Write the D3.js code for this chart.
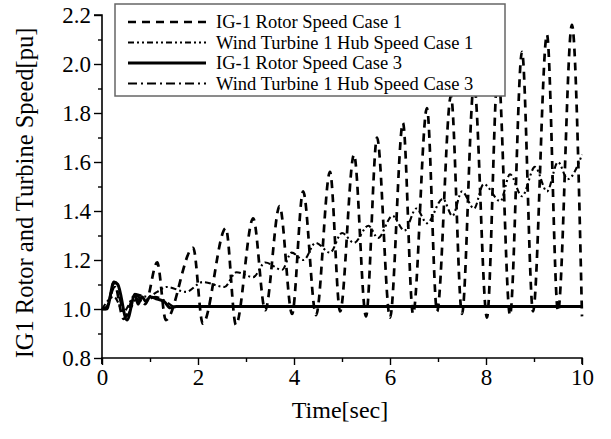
<!DOCTYPE html>
<html>
<head>
<meta charset="utf-8">
<script src="https://cdn.jsdelivr.net/npm/d3@7"></script>
<style>
  html, body { margin: 0; padding: 0; background: #fff; }
  svg { display: block; }
  text { font-family: "Liberation Serif", "Times New Roman", serif; fill: #000; }
</style>
</head>
<body>
<svg id="chart" width="611" height="439"></svg>
<script>
// Time stamps (s) and speeds (pu) at the turning points of each trace
const rotorCase1Time = [0, 0.1, 0.25, 0.45, 0.7, 0.9, 1.15, 1.33, 1.9, 2.1, 2.58, 2.79, 3.15, 3.4, 3.7, 3.96, 4.19, 4.46, 4.75, 4.96, 5.25, 5.5, 5.73, 6.0, 6.27, 6.48, 6.77, 6.98, 7.27, 7.5, 7.75, 8.02, 8.25, 8.5, 8.75, 8.98, 9.27, 9.5, 9.79, 10.0];
const rotorCase1Speed = [1.0, 1.0, 1.11, 0.96, 1.06, 1.02, 1.19, 0.955, 1.25, 0.94, 1.33, 0.935, 1.37, 0.995, 1.42, 0.98, 1.48, 0.975, 1.56, 0.99, 1.63, 0.97, 1.70, 0.965, 1.76, 0.98, 1.82, 0.99, 1.87, 0.98, 1.92, 0.965, 1.98, 0.975, 2.05, 0.99, 2.12, 0.99, 2.16, 0.97];

const hubCase1Time = [0, 0.25, 0.45, 0.7, 0.95, 1.15, 1.35, 1.75, 2.1, 2.55, 2.8, 3.15, 3.4, 3.75, 3.95, 4.2, 4.45, 4.75, 5.0, 5.25, 5.55, 5.75, 6.05, 6.3, 6.55, 6.77, 7.1, 7.3, 7.5, 7.75, 7.95, 8.3, 8.5, 8.75, 9.02, 9.27, 9.5, 9.7, 10.0];
const hubCase1Speed = [1.0, 1.05, 0.99, 1.06, 1.05, 1.07, 1.09, 1.07, 1.11, 1.09, 1.15, 1.13, 1.19, 1.16, 1.23, 1.20, 1.27, 1.23, 1.31, 1.27, 1.34, 1.29, 1.38, 1.32, 1.41, 1.35, 1.45, 1.38, 1.48, 1.41, 1.51, 1.44, 1.55, 1.46, 1.58, 1.48, 1.60, 1.53, 1.63];

const rotorCase3Time = [0, 0.08, 0.12, 0.25, 0.33, 0.52, 0.69, 0.75, 0.83, 0.92, 1.0, 1.15, 1.3, 1.42, 1.55, 10.0];
const rotorCase3Speed = [1.0, 1.0, 1.01, 1.11, 1.10, 0.955, 1.06, 1.02, 1.05, 1.03, 1.05, 1.04, 1.03, 1.005, 1.01, 1.01];

const hubCase3Time = [0, 0.1, 0.27, 0.5, 0.72, 0.9, 1.1, 1.3, 1.5, 1.7, 10.0];
const hubCase3Speed = [1.0, 1.01, 1.09, 0.97, 1.04, 1.03, 1.05, 1.035, 1.01, 1.01, 1.01];

const legendLabels = [
  "IG-1 Rotor Speed Case 1",
  "Wind Turbine 1 Hub Speed Case 1",
  "IG-1 Rotor Speed Case 3",
  "Wind Turbine 1 Hub Speed Case 3"
];
const xTickValues = [0, 2, 4, 6, 8, 10];
const yTickValues = [0.8, 1.0, 1.2, 1.4, 1.6, 1.8, 2.0, 2.2];

const zip = (ts, vs) => ts.map((t, i) => [t, vs[i]]);

const series = [
  { label: legendLabels[0], data: zip(rotorCase1Time, rotorCase1Speed), width: 2.7, dash: "8,6" },
  { label: legendLabels[1], data: zip(hubCase1Time, hubCase1Speed), width: 2.1, dash: "6,3,2,3,2,3" },
  { label: legendLabels[2], data: zip(rotorCase3Time, rotorCase3Speed), width: 3, dash: null },
  { label: legendLabels[3], data: zip(hubCase3Time, hubCase3Speed), width: 2.2, dash: "9,4,2,4" }
];

const svg = d3.select("#chart");
const plotLeft = 102, plotRight = 582, plotTop = 15, plotBottom = 358;

const x = d3.scaleLinear().domain([0, 10]).range([plotLeft, plotRight]);
const y = d3.scaleLinear().domain([0.8, 2.2]).range([plotBottom, plotTop]);

// Traces
const line = d3.line()
  .x(d => x(d[0]))
  .y(d => y(d[1]))
  .curve(d3.curveMonotoneX);

svg.append("g")
  .selectAll("path")
  .data(series)
  .join("path")
  .attr("d", d => line(d.data))
  .attr("fill", "none")
  .attr("stroke", "#000")
  .attr("stroke-width", d => d.width)
  .attr("stroke-linejoin", "round")
  .attr("stroke-dasharray", d => d.dash);

// Axes
const fontSize = 23;
const isMajorY = d => yTickValues.some(v => Math.abs(v - d) < 1e-9);

const xAxis = d3.axisBottom(x).tickValues(d3.range(0, 10.01, 1))
  .tickSize(6).tickFormat(d => xTickValues.includes(d) ? d3.format("d")(d) : "");
const gx = svg.append("g").attr("transform", `translate(0,${plotBottom})`).call(xAxis);
gx.selectAll(".tick line").attr("y2", d => xTickValues.includes(d) ? 7 : 4);

const yAxis = d3.axisLeft(y).tickValues(d3.range(8, 22.01, 1).map(v => v / 10))
  .tickSize(8).tickFormat(d => isMajorY(d) ? d3.format(".1f")(d) : "");
const gy = svg.append("g").attr("transform", `translate(${plotLeft},0)`).call(yAxis);
gy.selectAll(".tick line").attr("x2", d => isMajorY(d) ? -8 : -4);

[gx, gy].forEach(g => {
  g.select(".domain").attr("stroke", "#000").attr("stroke-width", 1.6);
  g.selectAll(".tick line").attr("stroke", "#000").attr("stroke-width", 1.4);
  g.selectAll(".tick text")
    .style("font-family", '"Liberation Serif", "Times New Roman", serif')
    .style("font-size", fontSize + "px")
    .attr("fill", "#000");
});
gx.select(".domain").attr("d", `M${plotLeft},6V0H${plotRight}V6`);
gx.selectAll(".tick text").attr("dy", "0.72em").attr("y", 10);
gy.select(".domain").attr("d", `M-8,${plotTop}H0V${plotBottom + 6}`);
gy.selectAll(".tick text").attr("x", -11).attr("dy", "0.34em");

// Axis titles
svg.append("text")
  .attr("x", 340)
  .attr("y", 418)
  .attr("text-anchor", "middle")
  .style("font-size", "24px")
  .text("Time[sec]");

svg.append("text")
  .attr("transform", "translate(33,193) rotate(-90)")
  .attr("text-anchor", "middle")
  .style("font-size", "24.5px")
  .text("IG1 Rotor and Turbine Speed[pu]");

// Legend
const legend = svg.append("g");
legend.append("rect")
  .attr("x", 115).attr("y", 4)
  .attr("width", 390).attr("height", 92)
  .attr("fill", "#fff")
  .attr("stroke", "#666")
  .attr("stroke-width", 1.5);

const rowY = i => 22 + i * 20.5;
const rows = legend.selectAll("g.row").data(series).join("g").attr("class", "row");
rows.append("line")
  .attr("x1", 128).attr("x2", 206)
  .attr("y1", (d, i) => rowY(i)).attr("y2", (d, i) => rowY(i))
  .attr("stroke", "#000")
  .attr("stroke-width", d => d.width)
  .attr("stroke-dasharray", d => d.dash);
rows.append("text")
  .attr("x", 216)
  .attr("y", (d, i) => rowY(i))
  .attr("dy", "0.33em")
  .style("font-size", "18.5px")
  .text(d => d.label);
</script>
</body>
</html>
